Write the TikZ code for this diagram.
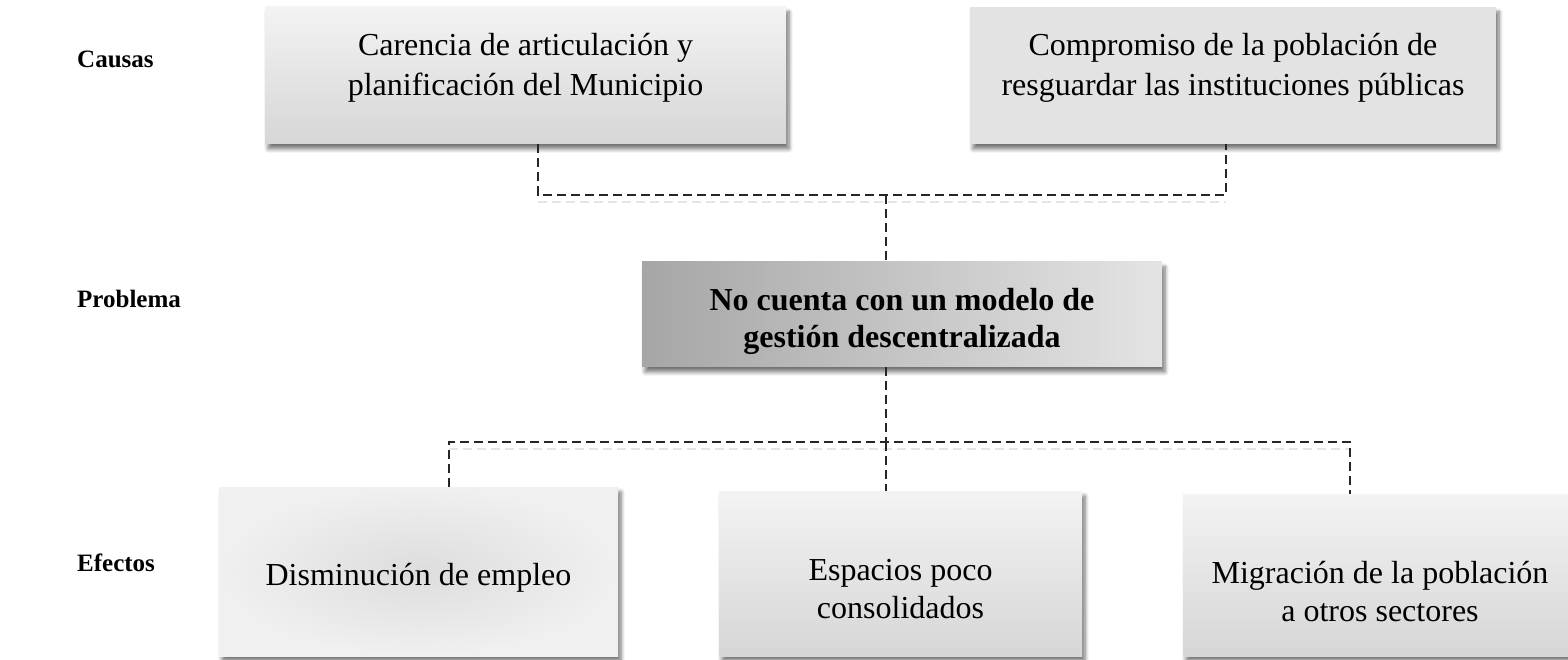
\documentclass[tikz,border=0pt]{standalone}
\usepackage{fontspec}
\setmainfont{Liberation Serif}
\usetikzlibrary{calc,shadows.blur}
\definecolor{gtop}{RGB}{243,243,243}
\definecolor{gbot}{RGB}{214,214,214}
\definecolor{gflat}{RGB}{227,227,227}
\definecolor{pleft}{RGB}{166,166,166}
\definecolor{pright}{RGB}{228,228,228}
\definecolor{rin}{RGB}{221,221,221}
\definecolor{rout}{RGB}{240,240,240}
\tikzset{
  boxbase/.style={draw=none, inner sep=0pt,
    blur shadow={shadow xshift=3pt, shadow yshift=-5pt, shadow blur steps=6, shadow opacity=55, shadow blur radius=4pt}},
  vgrad/.style={boxbase, top color=gtop, bottom color=gbot},
  txt/.style={align=center, font=\fontsize{32}{40}\selectfont, text=black, inner sep=0pt},
  etxt/.style={align=center, font=\fontsize{32}{38}\selectfont, text=black, inner sep=0pt},
  ptxt/.style={align=center, font=\fontsize{32}{37}\selectfont\bfseries, text=black, inner sep=0pt},
  rowlabel/.style={anchor=base west, font=\fontsize{25}{29}\selectfont\bfseries, inner sep=0pt},
  conn/.style={draw=black!85, line width=1.3pt, dash pattern=on 9pt off 5pt},
  connshadow/.style={draw=black!10, line width=2pt, dash pattern=on 9pt off 5pt}
}
\begin{document}
\begin{tikzpicture}[x=1pt,y=1pt]
\useasboundingbox (0,0) rectangle (1568,659);

% row labels
\node[rowlabel] (lc) at (77,591) {Causas};
\node[rowlabel] (lp) at (77,351) {Problema};
\node[rowlabel] (le) at (77,88) {Efectos};

% boxes
\node[vgrad, minimum width=521pt, minimum height=137pt] (c1) at (525.5,583.5) {};
\node[boxbase, fill=gflat, minimum width=526pt, minimum height=137pt] (c2) at (1233,583.5) {};
\node[boxbase, left color=pleft, right color=pright, minimum width=520pt, minimum height=105pt] (p) at (902,344.5) {};
\node[boxbase, inner color=rin, outer color=rout, minimum width=399pt, minimum height=169pt] (e1) at (418.5,87.5) {};
\node[vgrad, minimum width=363pt, minimum height=165pt] (e2) at (900.5,85.5) {};
\node[vgrad, minimum width=394pt, minimum height=162pt] (e3) at (1380,84) {};

% texts
\node[txt] (c1t) at ($(c1.center)+(0,8)$) {Carencia de articulación y\\planificación del Municipio};
\node[txt] (c2t) at ($(c2.center)+(0,8)$) {Compromiso de la población de\\resguardar las instituciones públicas};
\node[ptxt] (pt) at ($(p.center)+(0,-6.5)$) {No cuenta con un modelo de\\gestión descentralizada};
\node[etxt] (t1) at ($(e1.center)+(0,-6)$) {Disminución de empleo};
\node[etxt] (t2) at ($(e2.center)+(0,-16)$) {Espacios poco\\consolidados};
\node[etxt] (t3) at ($(e3.center)+(0,-16.5)$) {Migración de la población\\a otros sectores};

% junctions
\coordinate (jc) at (886,464);
\coordinate (je) at (886,217);

% connector shadows
\draw[connshadow] ([xshift=12.5pt,yshift=-7pt]c1.south |- jc) -- ([xshift=-7pt,yshift=-7pt]c2.south |- jc);
\draw[connshadow] ([xshift=30.5pt,yshift=-7pt]e1.north |- je) -- ([xshift=-30pt,yshift=-7pt]e3.north |- je);

% connectors
\draw[conn] ([xshift=12.5pt]c1.south) |- (jc) -| ([xshift=-7pt]c2.south);
\draw[conn] (jc) -- (jc |- p.north);
\draw[conn] (p.south -| je) -- (je);
\draw[conn] ([xshift=30.5pt]e1.north) |- (je) -| ([xshift=-30pt]e3.north);
\draw[conn] (je) -- (je |- e2.north);
\end{tikzpicture}
\end{document}
